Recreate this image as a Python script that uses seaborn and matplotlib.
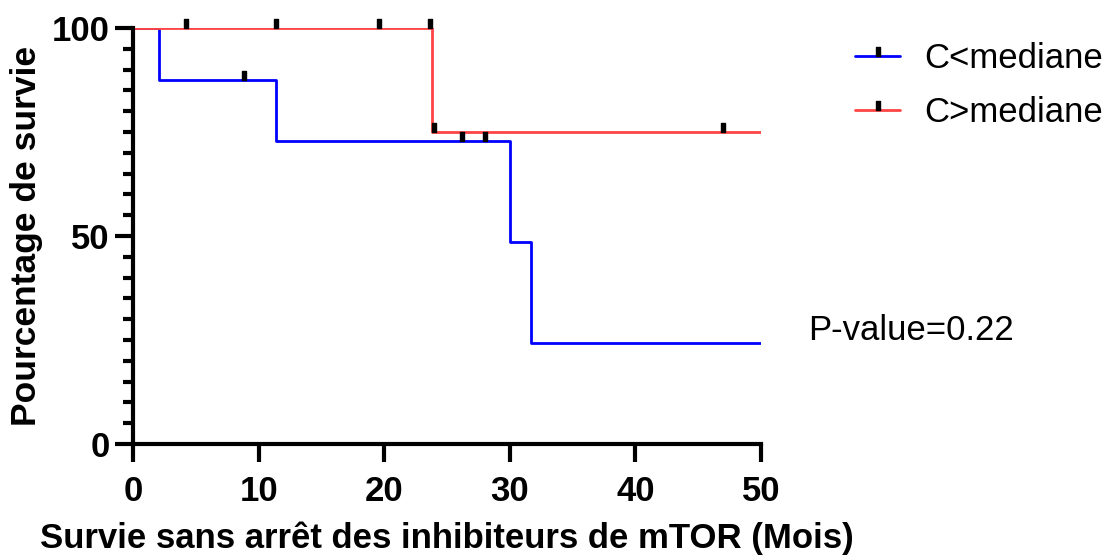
import numpy as np
import pandas as pd
import matplotlib
matplotlib.use("Agg")
import matplotlib.pyplot as plt
import seaborn as sns
from matplotlib.path import Path
from matplotlib.lines import Line2D

# Kaplan-Meier steps
blue_times = [0, 2.1, 11.4, 30.0, 31.7, 50]
blue_surv = [100, 87.5, 72.9, 48.6, 24.3, 24.3]
blue_cens_t = [8.8, 26.2, 28.0]
blue_cens_s = [87.5, 72.9, 72.9]

red_times = [0, 23.8, 50]
red_surv = [100, 75, 75]
red_cens_t = [4.2, 11.4, 19.6, 23.65, 23.95, 47.0]
red_cens_s = [100, 100, 100, 100, 75, 75]

labels = ["C<mediane", "C>mediane"]
colors = ["#0000ff", "#ff4444"]

sns.set_style("ticks")
plt.rcParams['font.family'] = ['Liberation Sans', 'DejaVu Sans']
plt.rcParams['text.color'] = 'black'
plt.rcParams['axes.labelcolor'] = 'black'
plt.rcParams['xtick.color'] = 'black'
plt.rcParams['ytick.color'] = 'black'

fs = 25

df = pd.concat([
    pd.DataFrame({"t": blue_times, "s": blue_surv, "grp": labels[0]}),
    pd.DataFrame({"t": red_times, "s": red_surv, "grp": labels[1]}),
])

# censor tick: small rectangle sitting on top of the line
tick = Path([(-0.17, 0), (0.17, 0), (0.17, 1), (-0.17, 1), (-0.17, 0)],
            [Path.MOVETO, Path.LINETO, Path.LINETO, Path.LINETO, Path.CLOSEPOLY])

fig = plt.figure(figsize=(11.06, 5.57), dpi=100)
ax = fig.add_axes([0.1203, 0.2029, 0.688 - 0.1203, 0.9497 - 0.2029])

sns.lineplot(data=df, x="t", y="s", hue="grp", palette=colors, estimator=None,
             drawstyle="steps-post", linewidth=2, legend=False, ax=ax)

for ct, cs in [(blue_cens_t, blue_cens_s), (red_cens_t, red_cens_s)]:
    ax.plot(ct, cs, linestyle="none", marker=tick, markersize=13,
            color="black", clip_on=False, zorder=5)

ax.set_xlim(0, 50)
ax.set_ylim(0, 100)
ax.set_xticks([0, 10, 20, 30, 40, 50])
ax.set_yticks([0, 50, 100])
ax.set_yticks(np.arange(0, 101, 5), minor=True)

for sp in ["top", "right"]:
    ax.spines[sp].set_visible(False)
for sp in ["left", "bottom"]:
    ax.spines[sp].set_linewidth(3)
    ax.spines[sp].set_color("black")
    ax.spines[sp].set_capstyle("projecting")

ax.tick_params(axis="x", which="major", length=13, width=3, labelsize=fs, pad=9)
ax.tick_params(axis="y", which="major", length=13, width=3, labelsize=fs, pad=4)
ax.tick_params(axis="y", which="minor", length=7.5, width=3)
for lab in ax.get_xticklabels() + ax.get_yticklabels():
    lab.set_fontweight("bold")

ax.set_xlabel("Survie sans arrêt des inhibiteurs de mTOR (Mois)", fontsize=fs,
              fontweight="bold", labelpad=10)
ax.set_ylabel("Pourcentage de survie", fontsize=fs + 0.5, fontweight="bold",
              labelpad=6)

handles = [Line2D([0], [0], color=c, linewidth=2, marker=tick, markersize=13,
                  markerfacecolor="black", markeredgecolor="black")
           for c in colors]
fig.legend(handles, labels, loc="upper left", bbox_to_anchor=(0.773, 0.925),
           frameon=False, fontsize=fs, handlelength=1.3, handletextpad=0.7,
           labelspacing=0.62, borderaxespad=0, borderpad=0, markerscale=1)

fig.text(808 / 1106, 1 - 331 / 557, "P-value=0.22", fontsize=fs,
         va="center", ha="left")

fig.savefig("out.png", dpi=100)
